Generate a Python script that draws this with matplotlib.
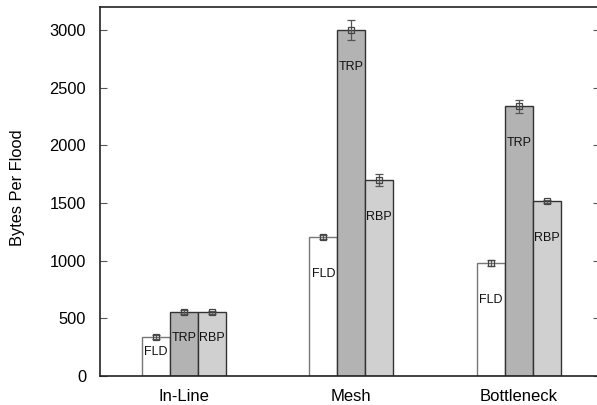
import matplotlib
matplotlib.use("Agg")
import matplotlib.pyplot as plt
import numpy as np

plt.rcParams['font.family'] = ['Liberation Sans', 'DejaVu Sans']

groups = ["In-Line", "Mesh", "Bottleneck"]
series = ["FLD", "TRP", "RBP"]
values = {
    "FLD": [340, 1205, 983],
    "TRP": [552, 3000, 2340],
    "RBP": [552, 1700, 1515],
}
errors = {
    "FLD": [15, 20, 25],
    "TRP": [18, 87, 56],
    "RBP": [15, 50, 15],
}
face_colors = {"FLD": "#ffffff", "TRP": "#b3b3b3", "RBP": "#d0d0d0"}
edge_colors = {"FLD": "#777777", "TRP": "#333333", "RBP": "#333333"}

fig = plt.figure(figsize=(5.97, 4.05), dpi=100)
ax = fig.add_axes([100/597, 29/405, 500/597, (376-7)/405])

x = np.arange(len(groups))
w = 0.167
for i, s in enumerate(series):
    xs = x + (i - 1) * w
    vals = np.array(values[s])
    ax.bar(xs, vals, width=w, color=face_colors[s], edgecolor=edge_colors[s],
           linewidth=1.0, zorder=2)
    ax.errorbar(xs, vals, yerr=errors[s], fmt='s', ms=5, mfc='none',
                mec='#444444', mew=0.9, ecolor='#555555', elinewidth=0.9,
                capsize=3, capthick=0.9, zorder=3)
    for xi, v in zip(xs, vals):
        off = min(320, 0.4 * v)
        ax.text(xi, v - off, s, ha='center', va='center', fontsize=9,
                color='#111111', zorder=4)

ax.set_xlim(-0.5, 2.485)
ax.set_ylim(0, 3200)
ax.set_yticks([0, 500, 1000, 1500, 2000, 2500, 3000])
ax.set_xticks(x)
ax.set_xticklabels(groups, fontsize=12)
ax.tick_params(axis='y', direction='in', length=5, color='#555555',
               labelsize=11.8, right=True, pad=10)
ax.tick_params(axis='x', length=0, pad=9.5)
ax.set_ylabel("Bytes Per Flood", fontsize=11.8, va='center')
ax.yaxis.set_label_coords(-0.165, 0.51)

ax.spines['right'].set_visible(False)
for sp in ['left', 'top', 'bottom']:
    ax.spines[sp].set_color('#222222')
    ax.spines[sp].set_linewidth(1.2)

fig.savefig("out.png", dpi=100)
